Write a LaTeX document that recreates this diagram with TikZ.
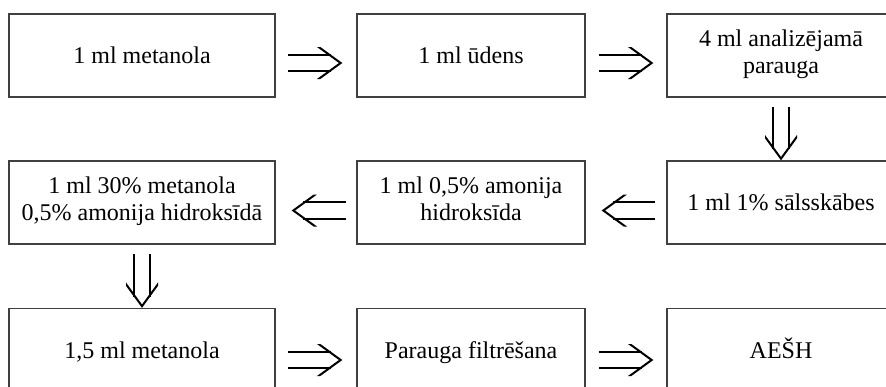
\documentclass[tikz,border=0pt]{standalone}
\usepackage{fontspec}
\setmainfont{Liberation Serif}
\usetikzlibrary{decorations.markings}

\begin{document}
\begin{tikzpicture}[x=1pt,y=-1pt,
    box/.style={draw=black!75, line width=1.3pt, minimum height=83pt, align=center, inner sep=0pt, font=\fontsize{24}{27}\selectfont,
      execute at begin node=\rule{0pt}{25pt}, execute at end node=\strut},
    wide/.style={box, minimum width=266pt},
    narrow/.style={box, minimum width=228pt},
    flow/.style={double, double distance=14.5pt, line width=2pt, shorten >=11pt,
      postaction={decorate, decoration={markings, mark=at position 1 with {
        \fill (0pt,0pt) -- (-22pt,16pt) -- (-25.4pt,16pt) -- (-3.4pt,0pt) -- (-25.4pt,-16pt) -- (-22pt,-16pt) -- cycle;}}}}]
        \clip (0,0) rectangle (886,386);
        \node[wide] (metanols) at (142,55.5) {1 ml metanola};
        \node[narrow] (udens) at (471,55.5) {1 ml ūdens};
        \node[narrow] (paraugs) at (781,55.5) {4 ml analizējamā\\parauga};
        \node[narrow] (skabe) at (781,202.5) {1 ml 1\% sālsskābes};
        \node[narrow] (amonijs) at (471,202.5) {1 ml 0,5\% amonija\\hidroksīda};
        \node[wide] (skidums) at (142,202.5) {1 ml 30\% metanola\\0,5\% amonija hidroksīdā};
        \node[wide] (metanols2) at (142,350) {1,5 ml metanola};
        \node[narrow] (filtresana) at (471,350) {Parauga filtrēšana};
        \node[narrow] (aesh) at (781,350) {AEŠH};
        \draw[flow] ([xshift=12pt,yshift=-7.5pt]metanols.east) -- ([xshift=-14pt,yshift=-7.5pt]udens.west);
        \draw[flow] ([xshift=13pt,yshift=-7.5pt]udens.east) -- ([xshift=-13pt,yshift=-7.5pt]paraugs.west);
        \draw[flow] ([yshift=-9pt]paraugs.south) -- (skabe.north);
        \draw[flow] ([xshift=-11pt,yshift=-8pt]skabe.west) -- ([xshift=16pt,yshift=-8pt]amonijs.east);
        \draw[flow] ([xshift=-10pt,yshift=-8pt]amonijs.west) -- ([xshift=16pt,yshift=-8pt]skidums.east);
        \draw[flow] ([yshift=-9pt]skidums.south) -- (metanols2.north);
        \draw[flow] ([xshift=12pt,yshift=-10pt]metanols2.east) -- ([xshift=-14pt,yshift=-10pt]filtresana.west);
        \draw[flow] ([xshift=13pt,yshift=-10pt]filtresana.east) -- ([xshift=-13pt,yshift=-10pt]aesh.west);
      \end{tikzpicture}
\end{document}
